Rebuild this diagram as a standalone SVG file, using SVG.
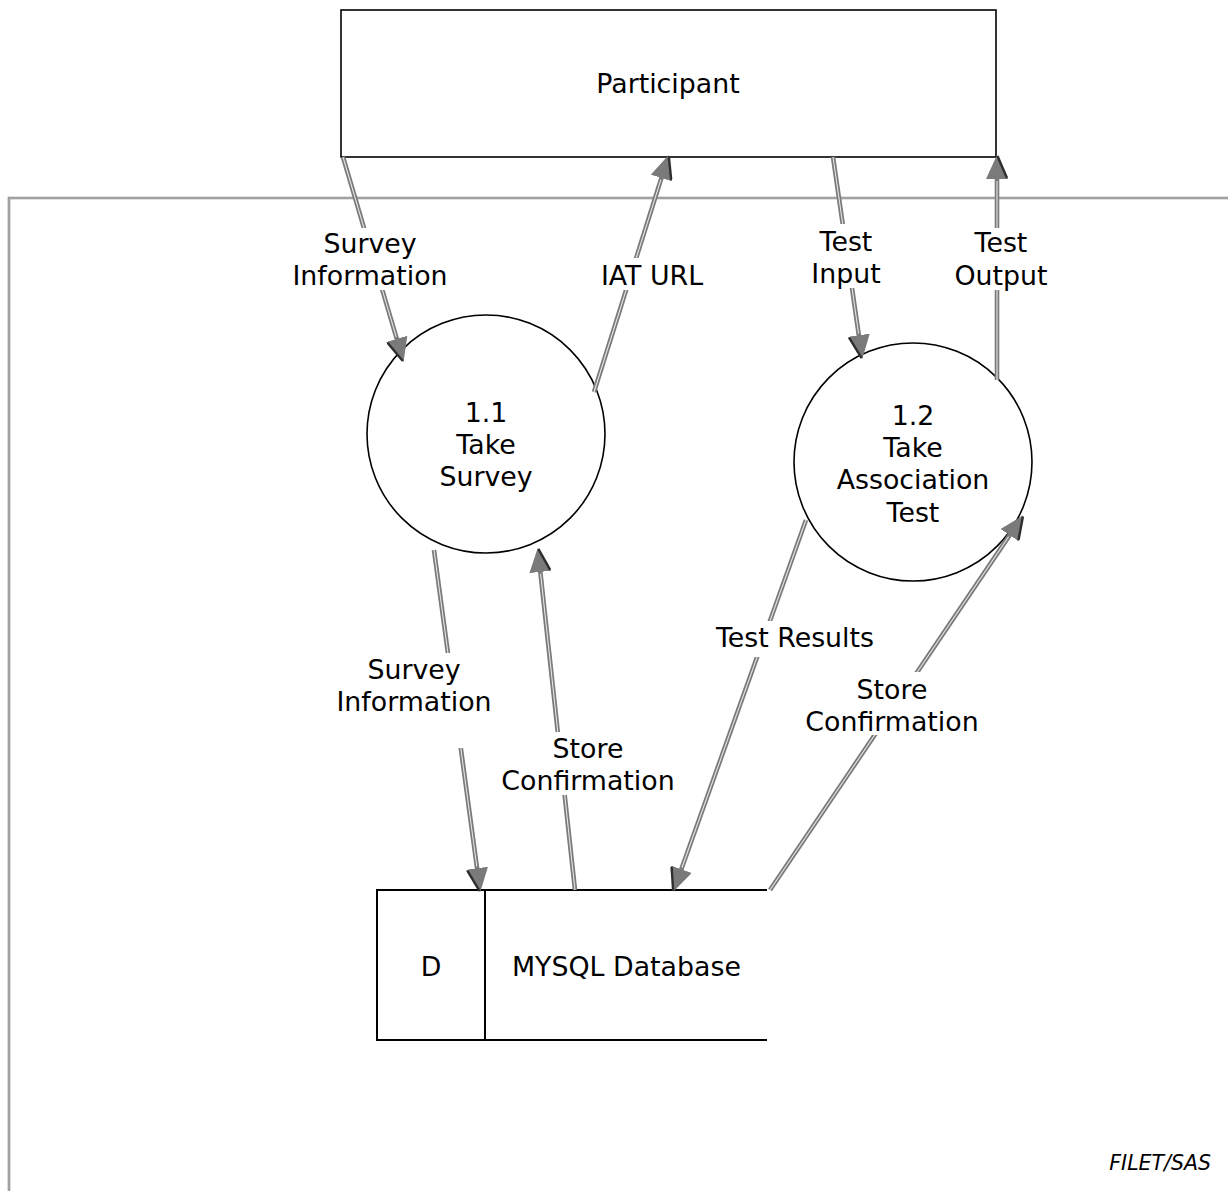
<svg xmlns="http://www.w3.org/2000/svg" width="1228" height="1191" viewBox="0 0 1228 1191">
  <style>
    .shape { fill: #ffffff; stroke: #000000; stroke-width: 1.6; }
    .edge { fill: none; stroke: #000000; stroke-width: 2; }
    .flow { fill: none; stroke: #7a7a7a; stroke-width: 4.6; }
    .flow-in { fill: none; stroke: #e6e6e6; stroke-width: 1.1; }
    .frame { fill: none; stroke: #8a8a8a; stroke-width: 2.6; }
    .frame-in { fill: none; stroke: #c4c4c4; stroke-width: 0.8; }
    .lbl { font-family: "DejaVu Sans", Verdana, sans-serif; font-size: 26.8px; fill: #000000; text-anchor: middle; }
    .gap { fill: #ffffff; stroke: none; }
    .note { font-family: "DejaVu Sans", Verdana, sans-serif; font-size: 20.5px; font-style: italic; fill: #000000; text-anchor: end; }
  </style>
  <defs>
    <marker id="head" viewBox="0 0 24 22" refX="4" refY="11" markerWidth="24" markerHeight="22" markerUnits="userSpaceOnUse" orient="auto">
      <path d="M0,0 L24,11 L0,22 Z" fill="#7a7a7a"/>
      <path d="M1,21 L23,11.5" stroke="#2e2e2e" stroke-width="2.4" fill="none"/>
    </marker>
  </defs>

  <rect width="1228" height="1191" fill="#ffffff"/>

  <!-- system boundary -->
  <g id="boundary">
    <path class="frame" d="M1228,198 H9 V1191"/>
    <path class="frame-in" d="M1228,198 H9 V1191"/>
  </g>

  <!-- external entity -->
  <g id="participant">
    <rect class="shape" x="341" y="10" width="655" height="147"/>
    <text class="lbl" x="668" y="93">Participant</text>
  </g>

  <!-- processes -->
  <g id="process-1-1">
    <circle class="shape" cx="486" cy="434" r="119"/>
    <text class="lbl" x="486" y="422">1.1</text>
    <text class="lbl" x="486" y="454">Take</text>
    <text class="lbl" x="486" y="486">Survey</text>
  </g>
  <g id="process-1-2">
    <circle class="shape" cx="913" cy="462" r="119"/>
    <text class="lbl" x="913" y="425">1.2</text>
    <text class="lbl" x="913" y="457">Take</text>
    <text class="lbl" x="913" y="489">Association</text>
    <text class="lbl" x="913" y="522">Test</text>
  </g>

  <!-- data store -->
  <g id="datastore">
    <path class="edge" d="M767,890 H377 V1040 H767"/>
    <path class="edge" d="M485,890 V1040"/>
    <text class="lbl" x="431" y="976">D</text>
    <text class="lbl" x="512" y="976" style="text-anchor:start">MYSQL Database</text>
  </g>

  <!-- data flows -->
  <g id="connectors">
    <path class="flow" d="M343,157 L397.9,342.7" marker-end="url(#head)"/>
    <path class="flow-in" d="M343,157 L396.3,337.2"/>

    <path class="flow" d="M594,392 L662.6,174.2" marker-end="url(#head)"/>
    <path class="flow-in" d="M594,392 L660.9,179.7"/>

    <path class="flow" d="M833,157 L859.4,339.2" marker-end="url(#head)"/>
    <path class="flow-in" d="M833,157 L858.6,333.5"/>

    <path class="flow" d="M997,380 L997,175" marker-end="url(#head)"/>
    <path class="flow-in" d="M997,380 L997,181"/>

    <path class="flow" d="M434,550 L477.6,872.2" marker-end="url(#head)"/>
    <path class="flow-in" d="M434,550 L476.8,866.5"/>

    <path class="flow" d="M575,890 L539.9,567.9" marker-end="url(#head)"/>
    <path class="flow-in" d="M575,890 L540.6,573.6"/>

    <path class="flow" d="M806,520 L680,873" marker-end="url(#head)"/>
    <path class="flow-in" d="M806,520 L681.9,867.7"/>

    <path class="flow" d="M770,890 L1011.9,531.9" marker-end="url(#head)"/>
    <path class="flow-in" d="M770,890 L1008.6,536.8"/>

    <!-- flow labels -->
    <rect class="gap" x="290" y="228" width="161" height="62"/>
    <text class="lbl" x="370" y="253">Survey</text>
    <text class="lbl" x="370" y="285">Information</text>

    <rect class="gap" x="596" y="258" width="112" height="32"/>
    <text class="lbl" x="652" y="285">IAT URL</text>

    <rect class="gap" x="806" y="224" width="80" height="64"/>
    <text class="lbl" x="846" y="251">Test</text>
    <text class="lbl" x="846" y="283">Input</text>

    <rect class="gap" x="953" y="228" width="96" height="62"/>
    <text class="lbl" x="1001" y="252">Test</text>
    <text class="lbl" x="1001" y="285">Output</text>

    <rect class="gap" x="334" y="653" width="161" height="95"/>
    <text class="lbl" x="414" y="679">Survey</text>
    <text class="lbl" x="414" y="711">Information</text>

    <rect class="gap" x="502" y="732" width="174" height="63"/>
    <text class="lbl" x="588" y="758">Store</text>
    <text class="lbl" x="588" y="790">Confirmation</text>

    <rect class="gap" x="712" y="621" width="166" height="36"/>
    <text class="lbl" x="795" y="647">Test Results</text>

    <rect class="gap" x="806" y="672" width="174" height="63"/>
    <text class="lbl" x="892" y="699">Store</text>
    <text class="lbl" x="892" y="731">Confirmation</text>
  </g>

  <text class="note" x="1211" y="1170">FILET/SAS</text>
</svg>
